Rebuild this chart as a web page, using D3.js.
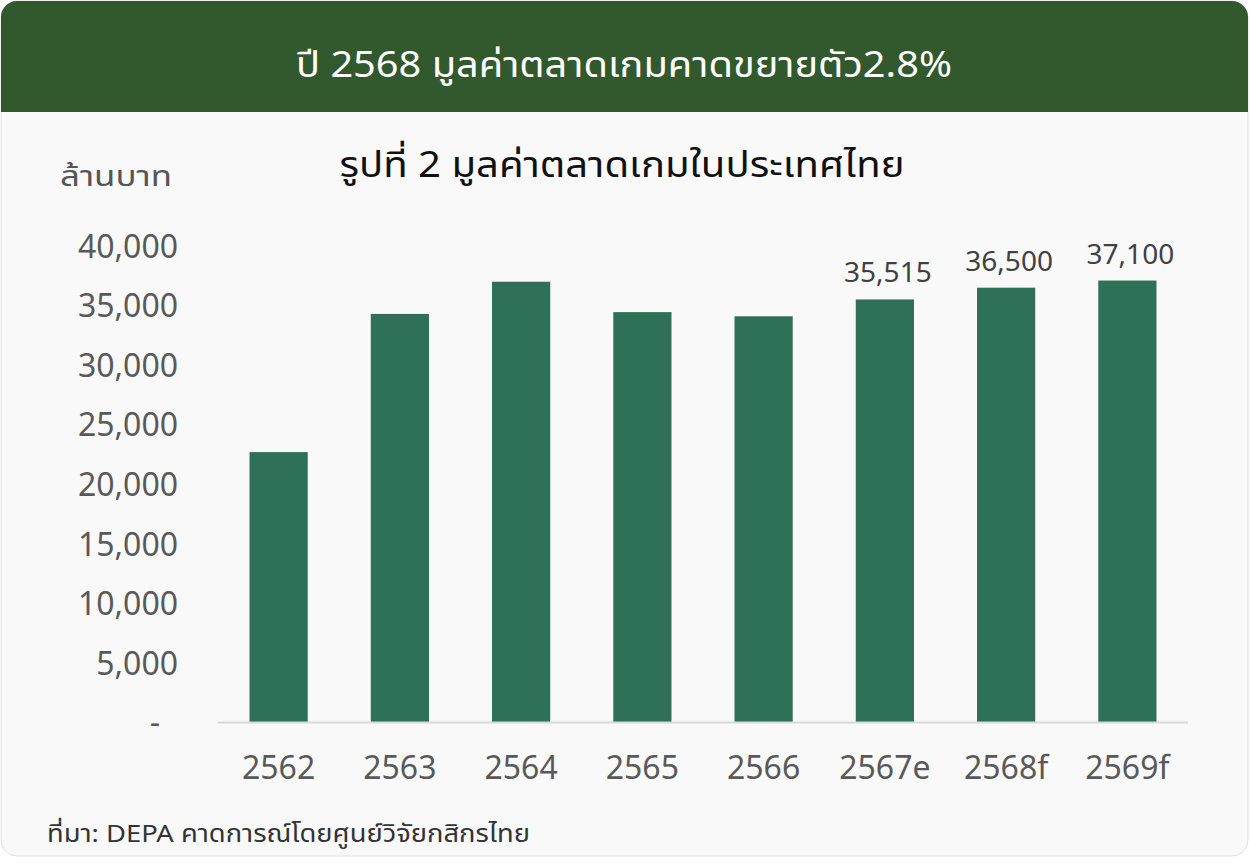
<!DOCTYPE html>
<html><head><meta charset="utf-8">
<script src="https://cdn.jsdelivr.net/npm/d3@7"></script>
<style>html,body{margin:0;padding:0;background:#fff;}svg{display:block;}</style>
</head><body>
<svg id="c" width="1250" height="866"></svg>
<script>
const categories = ["2562","2563","2564","2565","2566","2567e","2568f","2569f"];
const values = [22700, 34300, 37000, 34450, 34100, 35515, 36500, 37100];
const labelled = [false,false,false,false,false,true,true,true];
const yTicks = [0,5000,10000,15000,20000,25000,30000,35000,40000];
const headerText = "ปี 2568 มูลค่าตลาดเกมคาดขยายตัว2.8%";
const titleText = "รูปที่ 2 มูลค่าตลาดเกมในประเทศไทย";
const unitText = "ล้านบาท";
const sourceText = "ที่มา: DEPA  คาดการณ์โดยศูนย์วิจัยกสิกรไทย";

const font = "'Noto Sans Thai','Noto Sans','Open Sans',sans-serif";
const svg = d3.select("#c");
// card
svg.append("rect").attr("x",1).attr("y",1).attr("width",1247).attr("height",855).attr("rx",16)
  .attr("fill","#f9f9f9").attr("stroke","#e2e2e2");
// header with rounded top corners
const hp = d3.path();
const r=16, x0=1, x1=1248, y0=1, y1=112;
hp.moveTo(x0,y1); hp.lineTo(x0,y0+r); hp.arcTo(x0,y0,x0+r,y0,r); hp.lineTo(x1-r,y0);
hp.arcTo(x1,y0,x1,y0+r,r); hp.lineTo(x1,y1); hp.closePath();
svg.append("path").attr("d",hp.toString()).attr("fill","#32582e");
svg.append("text").attr("x",624).attr("y",77).attr("text-anchor","middle")
  .attr("font-family",font).attr("font-size",36).attr("fill","#fff")
  .attr("textLength",656).attr("lengthAdjust","spacingAndGlyphs").text(headerText);

svg.append("text").attr("x",622).attr("y",177).attr("text-anchor","middle")
  .attr("font-family",font).attr("font-size",36).attr("fill","#111")
  .attr("textLength",565).attr("lengthAdjust","spacingAndGlyphs").text(titleText);
svg.append("text").attr("x",60).attr("y",186)
  .attr("font-family",font).attr("font-size",28).attr("fill","#555")
  .attr("textLength",112).attr("lengthAdjust","spacingAndGlyphs").text(unitText);

const x = d3.scaleBand().domain(categories).range([218,1188]).paddingInner(0.52).paddingOuter(0.26);
const y = d3.scaleLinear().domain([0,40000]).range([722.5,246]);

svg.append("g").selectAll("rect").data(values).join("rect")
  .attr("x",(d,i)=>x(categories[i])).attr("width",x.bandwidth())
  .attr("y",d=>y(d)).attr("height",d=>y(0)-y(d)).attr("fill","#2e7058");

// baseline
svg.append("line").attr("x1",218).attr("x2",1188).attr("y1",y(0)).attr("y2",y(0))
  .attr("stroke","#d9d9d9").attr("stroke-width",2);

const fmt = d3.format(",");
const yAxis = d3.axisLeft(y).tickValues(yTicks).tickSize(0).tickPadding(0)
  .tickFormat(d=> d===0 ? "-" : fmt(d));
const gy = svg.append("g").attr("transform","translate(178,0)").call(yAxis);
gy.select(".domain").remove();
gy.selectAll("text").attr("font-family",font).attr("font-size",32).attr("fill","#595959")
  .attr("dy","0.35em");
gy.selectAll(".tick").filter(d=>d===0).select("text").attr("x",-18);

const xAxis = d3.axisBottom(x).tickSize(0).tickPadding(0);
const gx = svg.append("g").attr("transform","translate(0,779)").call(xAxis);
gx.select(".domain").remove();
gx.selectAll("text").attr("font-family",font).attr("font-size",32).attr("fill","#595959").attr("dy",0);

svg.append("g").selectAll("text").data(values.map((v,i)=>({v,i})).filter(d=>labelled[d.i])).join("text")
  .attr("x",d=>x(categories[d.i])+x.bandwidth()/2+3).attr("y",d=>y(d.v)-17)
  .attr("text-anchor","middle").attr("font-family",font).attr("font-size",28).attr("fill","#404040")
  .text(d=>fmt(d.v));

svg.append("text").attr("x",47).attr("y",842)
  .attr("font-family",font).attr("font-size",24).attr("fill","#333")
  .attr("textLength",483).attr("lengthAdjust","spacingAndGlyphs").text(sourceText);
</script>
</body></html>
